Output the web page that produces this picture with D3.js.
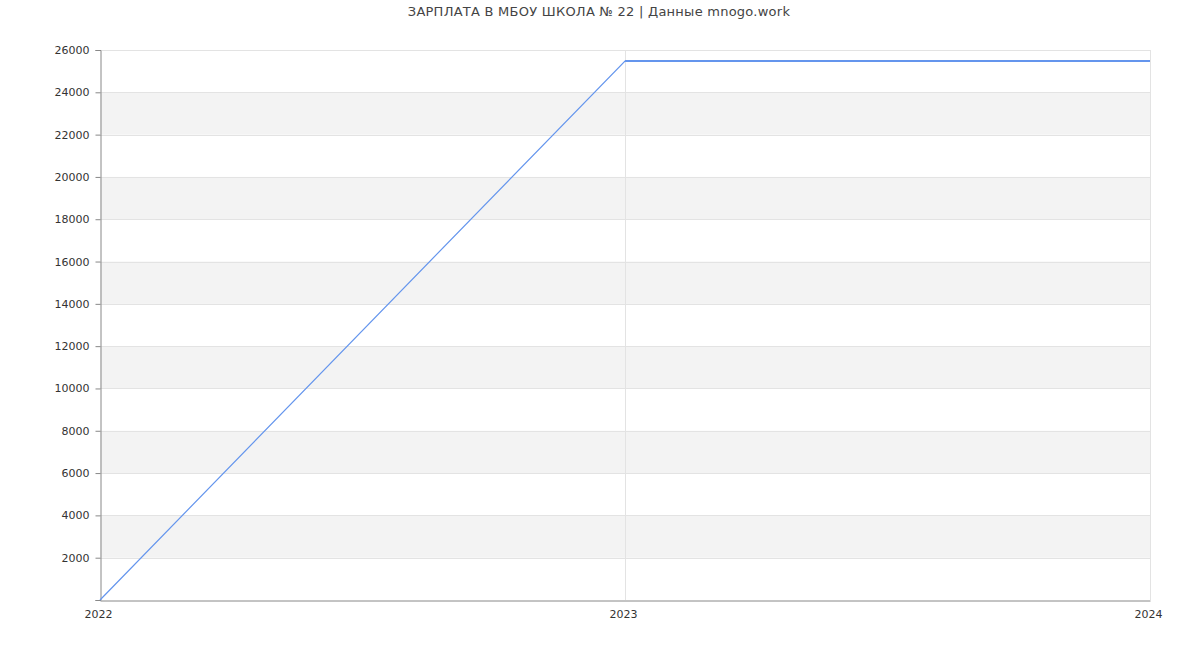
<!DOCTYPE html>
<html><head><meta charset="utf-8">
<script src="https://cdn.jsdelivr.net/npm/d3@7"></script>
<style>body{margin:0;background:#fff;}svg{display:block;font-family:"DejaVu Sans",sans-serif;}</style>
</head><body><svg id="c" width="1200" height="650"></svg>
<script>
const title = "ЗАРПЛАТА В МБОУ ШКОЛА № 22 | Данные mnogo.work";
const years = [2022, 2023, 2024];
const salary = [0, 25480, 25480];
const yTicks = [2000,4000,6000,8000,10000,12000,14000,16000,18000,20000,22000,24000,26000];

const svg = d3.select("#c");
const m = {l:100, r:1150, t:50, b:600};
const x = d3.scaleLinear().domain([2022, 2024]).range([m.l, m.r]);
const y = d3.scaleLinear().domain([0, 26000]).range([m.b, m.t]);

// bands
const bands = d3.range(0, 26000, 2000);
svg.append("g").selectAll("rect").data(bands.filter((d,i)=>i%2===1)).join("rect")
  .attr("x", m.l).attr("width", m.r-m.l)
  .attr("y", d=>y(d+2000)).attr("height", d=>y(d)-y(d+2000))
  .attr("fill", "#f3f3f3");
// horizontal grid
svg.append("g").selectAll("line").data(yTicks).join("line")
  .attr("x1", m.l).attr("x2", m.r)
  .attr("y1", d=>Math.round(y(d))+0.5).attr("y2", d=>Math.round(y(d))+0.5)
  .attr("stroke", "#e3e3e3");
// vertical grid
svg.append("g").selectAll("line").data(years.slice(1)).join("line")
  .attr("x1", d=>Math.round(x(d))+0.5).attr("x2", d=>Math.round(x(d))+0.5)
  .attr("y1", m.t).attr("y2", m.b)
  .attr("stroke", "#e3e3e3");

// y axis
const ya = svg.append("g").attr("transform", `translate(${m.l+0.5},0)`)
  .call(d3.axisLeft(y).tickValues([0].concat(yTicks)).tickSize(5).tickPadding(6)
    .tickFormat(d=>d===0?"":d));
ya.select(".domain").attr("stroke", "#888");
ya.selectAll(".tick line").attr("stroke", "#888");
ya.selectAll("text").attr("fill", "#333").style("font-size", "11px").style("font-family", "DejaVu Sans");

// x axis
const xa = svg.append("g").attr("transform", `translate(0,${m.b+0.5})`)
  .call(d3.axisBottom(x).tickValues(years).tickSize(0).tickPadding(10).tickFormat(d3.format("d")));
xa.select(".domain").attr("stroke", "#888");
xa.selectAll("text").attr("fill", "#333").attr("dx", "-2").style("font-size", "11px").style("font-family", "DejaVu Sans");

// line
const pts = years.map((yr,i)=>[yr, salary[i]]);
svg.append("path").datum(pts)
  .attr("fill", "none").attr("stroke", "#6495ed").attr("stroke-width", 1.2)
  .attr("d", d3.line().x(d=>x(d[0])).y(d=>y(d[1])));
svg.append("path").datum(pts.slice(1))
  .attr("fill", "none").attr("stroke", "#6495ed").attr("stroke-width", 2)
  .attr("d", d3.line().x(d=>x(d[0])).y(d=>y(d[1])));

svg.append("text").attr("x", 599).attr("y", 16).attr("text-anchor", "middle")
  .attr("fill", "#444").style("font-size", "13px").style("letter-spacing", "0.25px").text(title);
</script></body></html>
